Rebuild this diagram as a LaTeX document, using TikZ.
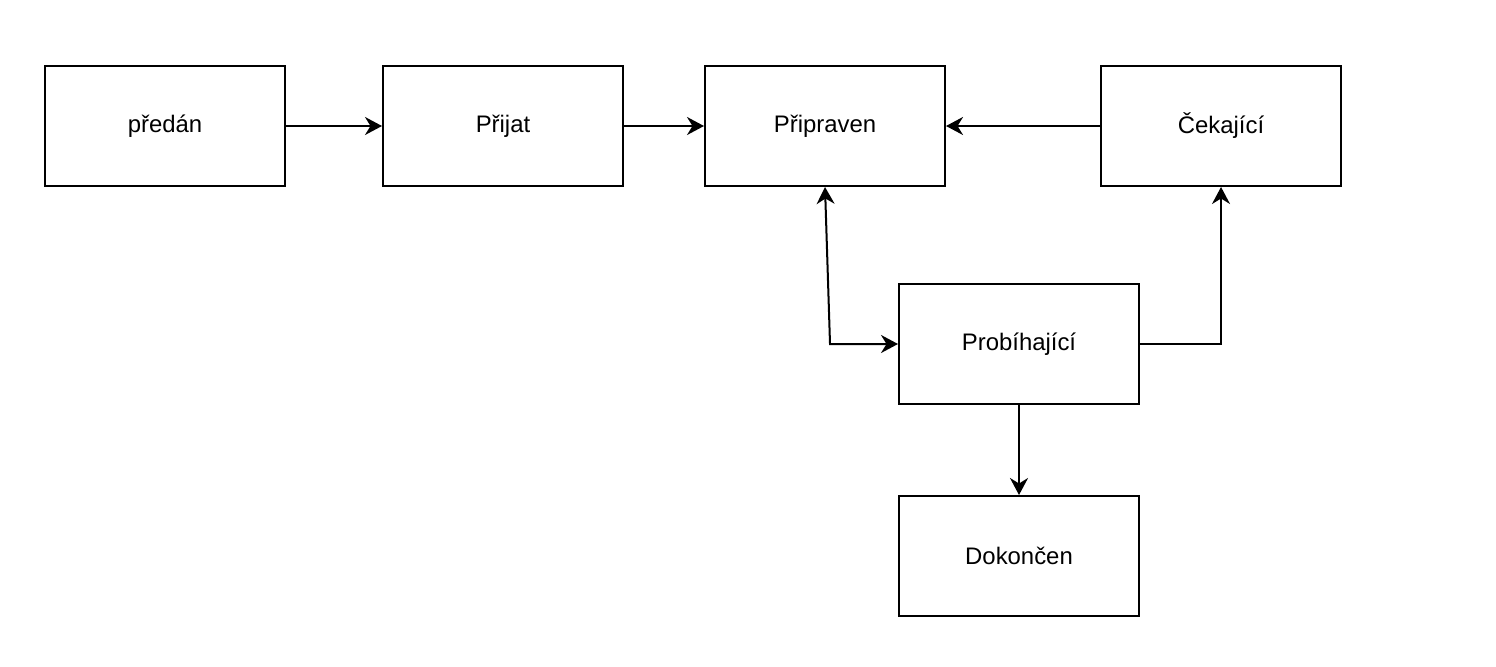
\documentclass[tikz,border=0pt]{standalone}
\usepackage{fontspec}
\setmainfont{Liberation Sans}
\usetikzlibrary{positioning,arrows.meta,calc}

\begin{document}
\begin{tikzpicture}[
      >={Stealth[length=1.7mm, width=1.8mm, inset=0.55mm]},
      state/.style={rectangle, draw=black, line width=0.57pt, fill=white,
                    minimum height=1.2cm, minimum width=2.4cm,
                    align=center, font=\fontsize{6.8}{8}\selectfont},
      arrow/.style={->, line width=0.57pt},
      twoway/.style={<->, line width=0.57pt}
    ]
    \useasboundingbox (0,0) rectangle (14.96,6.66);
    % --- upper row of states ---
    \node[state] (predan) at (1.65,5.40) {předán};
    \node[state, right=0.96cm of predan] (prijat) {Přijat};
    \node[state, right=0.80cm of prijat] (pripraven) {Připraven};
    \node[state, right=1.54cm of pripraven] (cekajici) {Čekající};
    % --- running and finished ---
    \node[state, below=0.96cm of pripraven, xshift=1.94cm] (probihajici) {Probíhající};
    \node[state, below=0.90cm of probihajici] (dokoncen) {Dokončen};
    \coordinate (corner) at ($(pripraven.south |- probihajici.west)+(0.05,0)$);

    \draw[arrow] (predan) -- (prijat);
    \draw[arrow] (prijat) -- (pripraven);
    \draw[arrow] (cekajici) -- (pripraven);
    \draw[twoway] (pripraven.south) -- (corner) -- (probihajici.west);
    \draw[arrow] (probihajici.east) -| (cekajici.south);
    \draw[arrow] (probihajici) -- (dokoncen);
  \end{tikzpicture}
\end{document}
